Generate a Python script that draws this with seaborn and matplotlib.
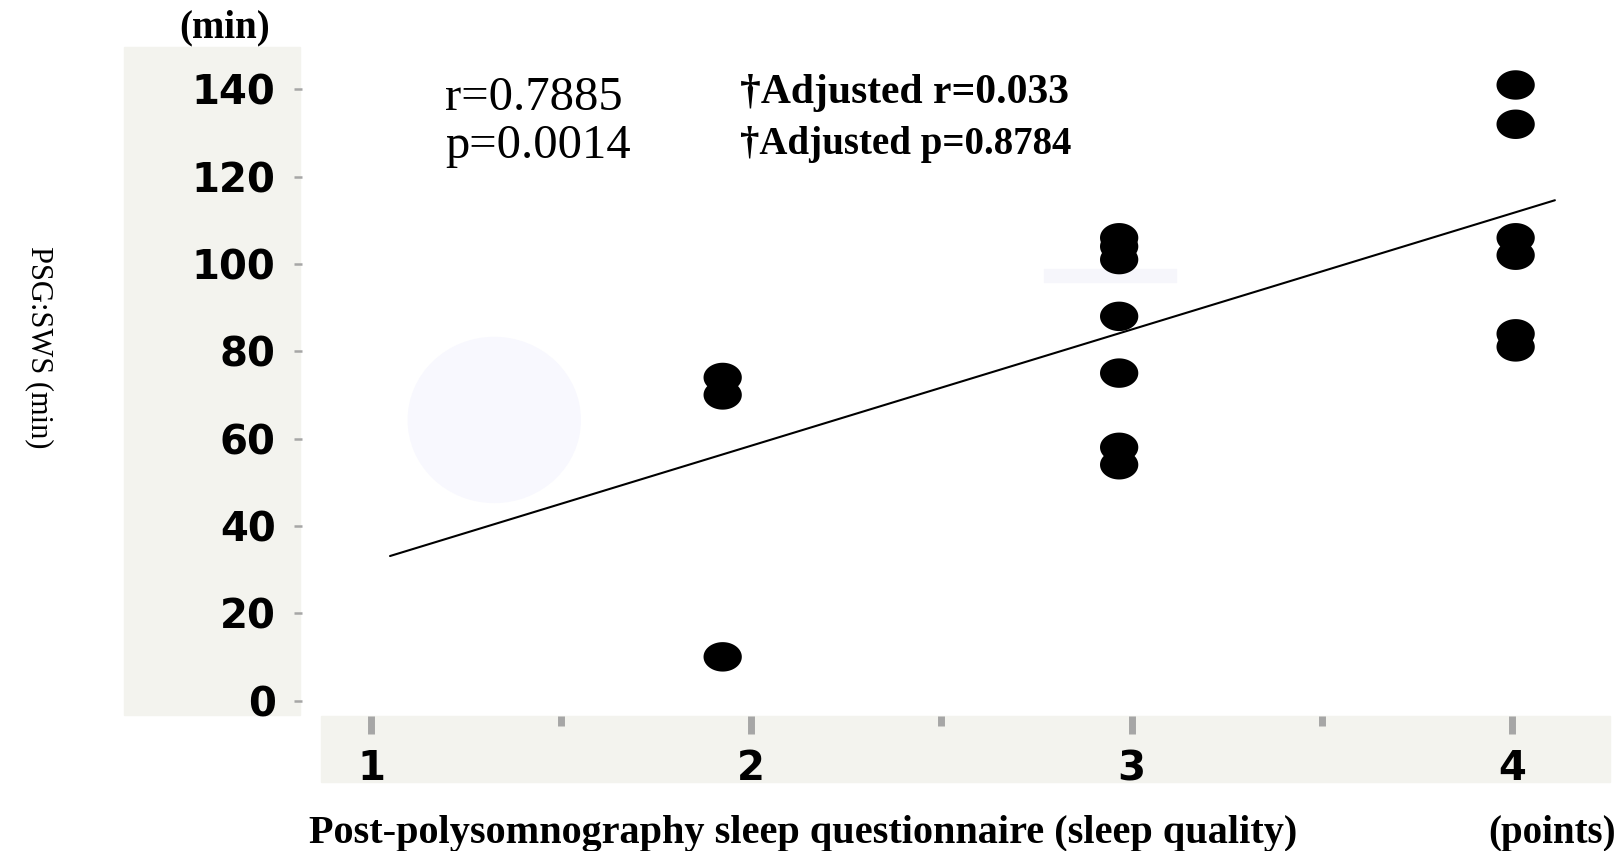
import numpy as np
import matplotlib
matplotlib.use("Agg")
import matplotlib.pyplot as plt
import seaborn as sns
from matplotlib.markers import MarkerStyle
from matplotlib.patches import Rectangle, Ellipse

# du lieu doc tu hinh
x_score = [2, 2, 2, 3, 3, 3, 3, 3, 3, 3, 4, 4, 4, 4, 4, 4]
sws_min = [74, 70, 10, 106, 104, 101, 88, 75, 58, 54, 141, 132, 106, 102, 84, 81]

# duong hoi quy (doc tu hinh)
fit_x = [1.161, 4.099]
fit_slope = 27.74
fit_intercept = 0.89

x_ticks = [1, 2, 3, 4]
x_minor = [1.5, 2.5, 3.5]
y_ticks = [0, 20, 40, 60, 80, 100, 120, 140]

stat_left = ["r=0.7885", "p=0.0014"]
stat_right = ["\u2020Adjusted r=0.033", "\u2020Adjusted p=0.8784"]

PANEL = "#f3f3ee"
TICK_GRAY = "#a6a6a6"
SERIF = ["Liberation Serif", "DejaVu Serif"]

sns.set_style("white")
plt.rcParams["font.family"] = ["DejaVu Sans"]
plt.rcParams["text.color"] = "black"

fig = plt.figure(figsize=(16.24, 8.51), dpi=100)
W, H = 1624, 851

# nen xam ben trai va ben duoi
fig.add_artist(Rectangle((124 / W, 1 - 715 / H), 176 / W, 668 / H,
                         transform=fig.transFigure, color=PANEL, zorder=-5))
fig.add_artist(Rectangle((321 / W, 1 - 782 / H), 1289 / W, 66 / H,
                         transform=fig.transFigure, color=PANEL, zorder=-5))

ax = fig.add_axes([302 / W, 1 - 716 / H, 1308 / W, 669 / H])
ax.patch.set_alpha(0)

# vet mo trong hinh goc
ax.add_patch(Ellipse((0.147, 0.4425), 0.1315, 0.2466, transform=ax.transAxes,
                     color="#f8f8fe", zorder=0))
ax.add_patch(Rectangle((0.567, 0.6487), 0.101, 0.0194, transform=ax.transAxes,
                       color="#f6f6fb", zorder=0))

t = np.linspace(0, 2 * np.pi, 80)
oval = MarkerStyle(np.column_stack([1.3 * np.cos(t), np.sin(t)]))

sns.scatterplot(x=x_score, y=sws_min, ax=ax, marker=oval, s=760,
                color="black", edgecolor="none", linewidth=0, zorder=3)

line_x = np.array(fit_x)
sns.lineplot(x=line_x, y=fit_intercept + fit_slope * line_x, ax=ax,
             color="black", linewidth=1.5, zorder=2)

ax.set_xlim(0.939, 4.238)
ax.set_ylim(-3.55, 149.7)
for s in ax.spines.values():
    s.set_visible(False)
ax.set_xticks([])
ax.set_yticks(y_ticks)
ax.tick_params(axis="y", left=True, direction="out", length=6, width=1.8,
               color=TICK_GRAY, labelcolor="black", pad=13, labelsize=29)
for lb in ax.get_yticklabels():
    lb.set_fontweight("bold")
ax.set_xlabel("")
ax.set_ylabel("")

# truc x rieng (trong hinh goc thang chia lech voi diem)
axx = fig.add_axes([321 / W, 1 - 716 / H, 1289 / W, 0.001])
axx.patch.set_alpha(0)
for s in axx.spines.values():
    s.set_visible(False)
axx.set_xlim(0.8685, 4.258)
axx.set_yticks([])
axx.set_xticks(x_ticks)
axx.set_xticks(x_minor, minor=True)
axx.tick_params(axis="x", which="major", bottom=True, direction="out",
                length=13, width=5, color=TICK_GRAY, labelcolor="black",
                pad=11, labelsize=29)
axx.tick_params(axis="x", which="minor", bottom=True, direction="out",
                length=7, width=5, color=TICK_GRAY)
for lb in axx.get_xticklabels():
    lb.set_fontweight("bold")

# chu thich
fig.text(225 / W, 1 - 28 / H, "(min)", family=SERIF, fontsize=28,
         fontweight="bold", ha="center", va="center")
fig.text(39 / W, 1 - 347 / H, "PSG:SWS (min)", family=SERIF, fontsize=22,
         rotation=270, ha="center", va="center")
fig.text(803 / W, 1 - 834 / H,
         "Post-polysomnography sleep questionnaire (sleep quality)",
         family=SERIF, fontsize=29, fontweight="bold", ha="center", va="center")
fig.text(1616 / W, 1 - 834 / H, "(points)", family=SERIF, fontsize=28,
         fontweight="bold", ha="right", va="center")

fig.text(445 / W, 1 - 98 / H, stat_left[0], family=SERIF, fontsize=35,
         ha="left", va="center")
fig.text(445 / W, 1 - 146 / H, stat_left[1], family=SERIF, fontsize=35,
         ha="left", va="center")
fig.text(740 / W, 1 - 93 / H, stat_right[0], family=SERIF, fontsize=30,
         fontweight="bold", ha="left", va="center")
fig.text(740 / W, 1 - 144 / H, stat_right[1], family=SERIF, fontsize=28,
         fontweight="bold", ha="left", va="center")

plt.savefig("out.png", dpi=100)
plt.close()
